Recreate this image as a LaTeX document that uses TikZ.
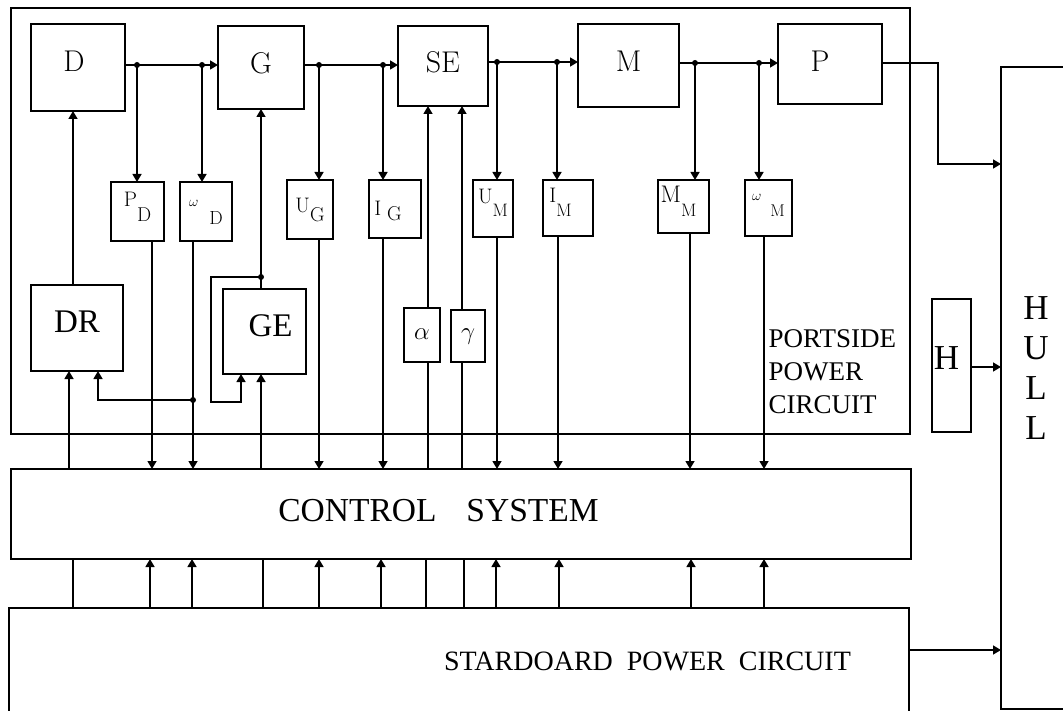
\documentclass[tikz,border=0pt]{standalone}
\usepackage{fontspec}
\newfontfamily\tnr{Liberation Serif}
\usetikzlibrary{arrows.meta}
\newcommand\fsz[1]{\fontsize{#1}{#1}\selectfont}
\begin{document}
\begin{tikzpicture}[x=1pt,y=-1pt,line width=1.4pt,
  blk/.style={draw,rectangle,inner sep=0pt,outer sep=0pt},
  bx/.style 2 args={blk,minimum width=#1,minimum height=#2},
  arr/.style={-{Triangle[length=8pt,width=9pt]}},
  txt/.style={inner sep=0pt}]
\useasboundingbox (0,0) rectangle (1063,711);
% ---------- boxes ----------
\node[bx={899pt}{426pt}] (PS) at (460.5,221) {};
\node[bx={94pt}{87pt},font=\fsz{30},text height=9pt,text depth=0pt] (D) at (78,67.5) {D\hspace*{8pt}};
\node[bx={86pt}{83pt},font=\fsz{30},text height=13pt,text depth=0pt] (G) at (261,67.5) {G};
\node[bx={90pt}{80pt},font=\fsz{30},text height=14pt,text depth=0pt] (SE) at (443,66) {SE};
\node[bx={101pt}{83pt},font=\fsz{30},text height=13pt,text depth=0pt] (M) at (628.5,65.5) {M};
\node[bx={104pt}{80pt},font=\fsz{30},text height=16pt,text depth=0pt] (P) at (830,64) {P\hspace*{20pt}};
% sensors
\node[bx={53pt}{59pt},font=\fsz{21},text height=0pt,text depth=9pt] (PD) at (137.5,211.5) {P\raisebox{-15pt}{\fsz{20}D}};
\node[bx={52pt}{59pt},font=\fsz{21},text height=0pt,text depth=9pt] (WD) at (206,211.5) {{\fsz{15}$\omega$}\hspace{11pt}\raisebox{-18pt}{\fsz{19}D}};
\node[bx={46pt}{59pt},font=\fsz{21},text height=7pt,text depth=0pt] (UG) at (310,209.5) {U\raisebox{-9pt}{\fsz{20}G}};
\node[bx={52pt}{58pt},font=\fsz{21},text height=14pt,text depth=0pt] (IG) at (395,209) {I\hspace{6pt}\raisebox{-5pt}{\fsz{20}G}\hspace*{14pt}};
\node[bx={40pt}{57pt},font=\fsz{21},text height=0pt,text depth=9pt] (UM) at (493,208.5) {U\raisebox{-13pt}{\fsz{18}M}};
\node[bx={50pt}{56pt},font=\fsz{21},text height=0pt,text depth=10pt] (IM) at (568,208) {I\raisebox{-14pt}{\fsz{18}M}\hspace*{15pt}};
\node[bx={51pt}{53pt},font=\fsz{21},text height=0pt,text depth=7pt] (MM) at (683.5,206.5) {{\fsz{24}M}\raisebox{-14pt}{\fsz{18}M}\hspace*{10pt}};
\node[bx={47pt}{56pt},font=\fsz{21},text height=0pt,text depth=14pt] (WM) at (768.5,208) {{\fsz{15}$\omega$}\hspace{9pt}\raisebox{-16pt}{\fsz{17}M}};
% lower boxes
\node[bx={92pt}{86pt},font=\tnr\fsz{33},text height=10pt,text depth=0pt] (DR) at (77,328) {DR};
\node[bx={83pt}{85pt},font=\tnr\fsz{33},text height=11pt,text depth=0pt] (GE) at (264.5,331.5) {\hspace*{12pt}GE};
\node[bx={36pt}{54pt},font=\fsz{24.88},text height=10pt,text depth=0pt] (AL) at (422,335) {$\alpha$};
\node[bx={34pt}{52pt},font=\fsz{24.88},text height=8pt,text depth=0pt] (GA) at (468,336) {$\gamma$};
\node[txt,anchor=north west,align=left,font=\tnr\fontsize{27}{33}\selectfont] (pstext) at (768,329) {PORTSIDE\\POWER\\CIRCUIT};
\node[bx={39pt}{133pt},font=\tnr\fsz{35},text height=9pt,text depth=0pt] (H) at (951.5,365.5) {H\hspace*{10pt}};
\node[bx={70pt}{642pt}] (HULL) at (1036,388) {};
\node[txt,anchor=north,align=center,font=\tnr\fontsize{35}{40}\selectfont] (hulltxt) at (1036,296) {H\\U\\L\\L};
\node[bx={900pt}{90pt},font=\tnr\fsz{33.5},text height=14pt,text depth=0pt] (CS) at (461,514) {CONTROL\hspace{30pt}SYSTEM\hspace*{45pt}};
\node[bx={900pt}{112pt},font=\tnr\fsz{28},text height=12pt,text depth=0pt] (SP) at (459,664) {\hspace*{377pt}STARDOARD\hspace{14pt}POWER\hspace{14pt}CIRCUIT};
% ---------- main chain ----------
\coordinate (a1) at (137,65); \coordinate (a2) at (202,65);
\coordinate (b1) at (319,65); \coordinate (b2) at (383,65);
\coordinate (c1) at (497,62); \coordinate (c2) at (557,62);
\coordinate (e1) at (695,63); \coordinate (e2) at (759,63);
\draw[arr] (D.east |- a1) -- (G.west |- a1);
\draw[arr] (G.east |- b1) -- (SE.west |- b1);
\draw[arr] (SE.east |- c1) -- (M.west |- c1);
\draw[arr] (M.east |- e1) -- (P.west |- e1);
\foreach \p/\s in {a1/PD,a2/WD,b1/UG,b2/IG,c1/UM,c2/IM,e1/MM,e2/WM}{
  \draw[arr] (\p) -- (\p |- \s.north);
  \fill (\p) circle[radius=3pt];
}
% sensor outputs to control system
\foreach \xx/\s [count=\i] in {152/PD,193/WD,319/UG,383/IG,497/UM,558/IM,690/MM,764/WM}{
  \coordinate (so\i) at (\xx,0);
  \draw[arr] (so\i |- \s.south) -- (so\i |- CS.north);
}
% DR
\coordinate (xd) at (73,0);
\draw[arr] (xd |- DR.north) -- (xd |- D.south);
\coordinate (xdr) at (69,0);
\draw[arr] (xdr |- CS.north) -- (xdr |- DR.south);
\coordinate (wdb) at (193,400); \coordinate (drin) at (98,0);
\draw[arr] (wdb) -- (drin |- wdb) -- (drin |- DR.south);
\fill (wdb) circle[radius=3pt];
% GE
\coordinate (xg) at (261,0);
\draw[arr] (xg |- GE.north) -- (xg |- G.south);
\draw[arr] (xg |- CS.north) -- (xg |- GE.south);
\coordinate (gdot) at (261,277); \coordinate (fbl) at (211,402); \coordinate (fbin) at (241,0);
\draw[arr] (gdot) -- (gdot -| fbl) -- (fbl) -- (fbl -| fbin) -- (fbin |- GE.south);
\fill (gdot) circle[radius=3pt];
% alpha, gamma
\coordinate (xa) at (428,0);
\draw (xa |- CS.north) -- (xa |- AL.south);
\draw[arr] (xa |- AL.north) -- (xa |- SE.south);
\coordinate (xgm) at (462,0);
\draw (xgm |- CS.north) -- (xgm |- GA.south);
\draw[arr] (xgm |- GA.north) -- (xgm |- SE.south);
% standoard -> control
\foreach \xx [count=\i] in {73,263,426,464}{
  \coordinate (bp\i) at (\xx,0);
  \draw (bp\i |- SP.north) -- (bp\i |- CS.south);
}
\foreach \xx [count=\i] in {150,192,319,381,496,559,691,764}{
  \coordinate (ba\i) at (\xx,0);
  \draw[arr] (ba\i |- SP.north) -- (ba\i |- CS.south);
}
% to hull
\coordinate (pk) at (938,164);
\draw[arr] (P.east |- e1) -- (pk |- e1) -- (pk) -- (HULL.west |- pk);
\coordinate (hh) at (0,367);
\draw[arr] (H.east |- hh) -- (HULL.west |- hh);
\coordinate (sh) at (0,650);
\draw[arr] (SP.east |- sh) -- (HULL.west |- sh);
\end{tikzpicture}
\end{document}
